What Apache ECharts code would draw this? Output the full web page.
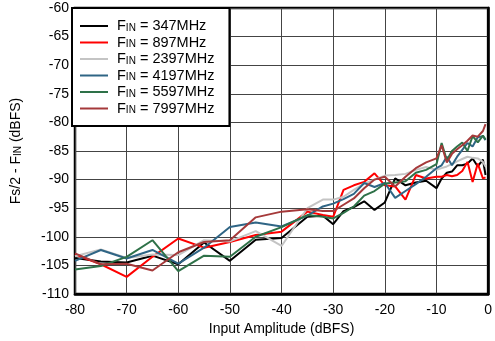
<!DOCTYPE html>
<html>
<head>
<meta charset="utf-8">
<script src="https://cdn.jsdelivr.net/npm/echarts@6/dist/echarts.min.js"></script>
<style>
html,body{margin:0;padding:0;background:#fff;}
#chart{width:495px;height:341px;}
</style>
</head>
<body>
<div id="chart"></div>
<script>
// Input amplitude (dBFS)
var xs = [-80,-75,-70,-65,-60,-55,-50,-45,-40,-35,-32,-30,-28,-26,-24,-22,-20,-18,-16,-14,-12,-10,-9,-8,-7,-6,-5,-4,-3,-2,-1,-0.5];
var seriesNames = ['FIN = 347MHz','FIN = 897MHz','FIN = 2397MHz','FIN = 4197MHz','FIN = 5597MHz','FIN = 7997MHz'];
var f347  = [-103.7,-104.3,-104.5,-103.3,-104.8,-101,-104.2,-100.5,-100.2,-96.5,-96.3,-97.8,-95.5,-94.8,-93.8,-95.3,-94,-89.8,-91,-90.5,-90.2,-91.5,-89.8,-88.8,-88.6,-87.5,-87.5,-87.2,-86.3,-87.7,-86.5,-89.2];
var f897  = [-103.1,-104.8,-107,-103.5,-100.3,-101.9,-100.9,-99.7,-99.1,-95.6,-96.2,-96.5,-91.8,-91,-90.4,-88.9,-91,-91.2,-93.5,-89.2,-89.8,-89.5,-89.5,-89.2,-89.4,-89.2,-88.5,-86.9,-90.4,-87.2,-89.8,-89.6];
var f2397 = [-103.4,-102.2,-103.7,-103.1,-103.2,-100.6,-100.8,-99,-101.6,-95,-93.5,-93.5,-93,-91.8,-90.7,-90,-89.3,-89.2,-89,-88.3,-87.8,-88.3,-88,-87.7,-87.3,-86.8,-86.4,-86,-86.2,-86.3,-86.9,-87.7];
var f4197 = [-104.2,-102.3,-103.8,-102.3,-104.7,-101.9,-98.3,-97.5,-98.2,-96.3,-94.7,-94.2,-93.4,-92.5,-90.6,-91.3,-90.6,-93.2,-92,-90.8,-89.5,-88,-87.5,-86,-87.5,-86,-84.8,-83.6,-84.2,-82.6,-82.4,-83.1];
var f5597 = [-105.7,-105.1,-103.5,-100.6,-106,-103.3,-103.5,-100,-98.3,-96.2,-96.5,-96.8,-95.8,-94.7,-92.8,-92,-90.7,-90.5,-90.3,-88.8,-88.3,-87.3,-83.6,-86.6,-85,-84.2,-83.5,-85,-82.4,-83.5,-82.3,-83];
var f7997 = [-102.9,-104.8,-104.7,-105.9,-102.7,-100.9,-100.6,-96.6,-95.6,-95.2,-95.5,-95.5,-94.4,-93.3,-91.5,-90,-89.5,-91.2,-89.5,-88,-87,-86.3,-84,-87,-85.5,-84.7,-84,-83.2,-82.3,-82.5,-81.5,-80.3];

var allValues = [f347, f897, f2397, f4197, f5597, f7997];
var colors = ['#000000','#ff0000','#c4c4c4','#2f6585','#2e7148','#a5393a'];

var chart = echarts.init(document.getElementById('chart'), null, {renderer:'canvas'});
var font = 'Liberation Sans, Arial, Helvetica, sans-serif';

var series = seriesNames.map(function(n, k){
  return {
    name: n,
    type: 'line',
    symbol: 'none',
    showSymbol: false,
    animation: false,
    lineStyle: {width: 2, color: colors[k]},
    itemStyle: {color: colors[k]},
    data: xs.map(function(x, i){ return [x, allValues[k][i]]; })
  };
});

var option = {
  animation: false,
  backgroundColor: '#fff',
  textStyle: {fontFamily: font},
  grid: {left: 72, right: 3, top: 8, bottom: 47, show: true, borderColor: '#000', borderWidth: 2.5, backgroundColor: 'transparent'},
  legend: {
    orient: 'vertical',
    left: 72, top: 8,
    padding: [10, 15, 10, 8],
    itemGap: 1,
    itemWidth: 28, itemHeight: 14,
    backgroundColor: '#fff',
    borderColor: '#000',
    borderWidth: 2,
    borderRadius: 0,
    icon: 'path://M0,6 L28,6 L28,8 L0,8 Z',
    data: seriesNames,
    formatter: function(name){
      return '{f|F}{s|IN}{t|' + name.slice(3) + '}';
    },
    textStyle: {
      fontFamily: font,
      padding: [0, 0, 0, 4],
      rich: {
        f: {fontSize: 14.5, fontFamily: font, color: '#000', lineHeight: 14},
        s: {fontSize: 10, fontFamily: font, color: '#000', verticalAlign: 'bottom', lineHeight: 14, padding: [5,0,0,0]},
        t: {fontSize: 14.5, fontFamily: font, color: '#000', lineHeight: 14}
      }
    }
  },
  xAxis: {
    type: 'value', min: -80, max: 0, interval: 10,
    name: 'Input Amplitude (dBFS)', nameLocation: 'middle', nameGap: 25,
    nameTextStyle: {fontSize: 14, fontFamily: font, color: '#000'},
    axisLine: {show: true, onZero: false, lineStyle: {color: '#000', width: 2.5}},
    axisTick: {show: false},
    axisLabel: {fontSize: 14, fontFamily: font, color: '#000', margin: 9},
    splitLine: {show: true, lineStyle: {color: '#444', width: 1}}
  },
  yAxis: {
    type: 'value', min: -110, max: -60, interval: 5,
    name: '{a|Fs/2 - F}{b|IN}{a| (dBFS)}', nameLocation: 'middle', nameGap: 52, nameRotate: 90,
    nameTextStyle: {
      fontFamily: font, color: '#000',
      rich: {
        a: {fontSize: 14, fontFamily: font, color: '#000', lineHeight: 14},
        b: {fontSize: 10, fontFamily: font, color: '#000', verticalAlign: 'bottom', lineHeight: 14, padding: [5,0,0,0]}
      }
    },
    axisLine: {show: true, lineStyle: {color: '#000', width: 2.5}},
    axisTick: {show: false},
    axisLabel: {fontSize: 14, fontFamily: font, color: '#000', margin: 6},
    splitLine: {show: true, lineStyle: {color: '#444', width: 1}}
  },
  series: series
};
chart.setOption(option);
</script>
</body>
</html>
